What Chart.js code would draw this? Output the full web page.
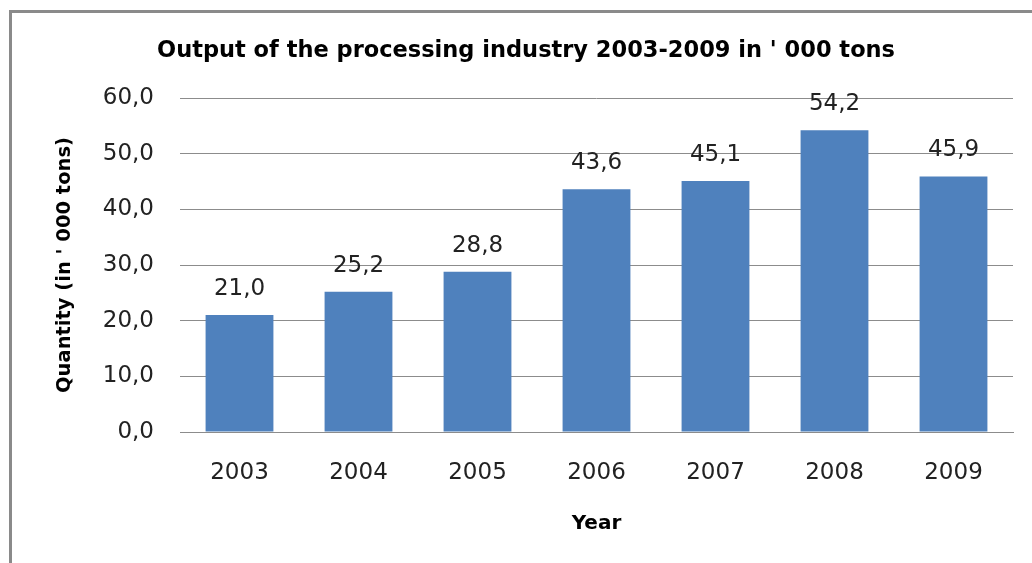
<!DOCTYPE html>
<html>
<head>
<meta charset="utf-8">
<script src="https://cdn.jsdelivr.net/npm/chart.js@4"></script>
<style>
  html, body { margin: 0; padding: 0; background: #fff; }
  #wrap { position: relative; width: 1032px; height: 563px; }
</style>
</head>
<body>
<div id="wrap"><canvas id="outputChart" width="1032" height="563"></canvas></div>
<script>
const years = ['2003', '2004', '2005', '2006', '2007', '2008', '2009'];
const output = [21.0, 25.2, 28.8, 43.6, 45.1, 54.2, 45.9];
const yTicks = [0, 10, 20, 30, 40, 50, 60];

const FONT = "'DejaVu Sans', sans-serif";
const TEXT = '#222';
const GRID = '#8c8c8c';

const fmt = v => v.toFixed(1).replace('.', ',');

// grey frame round the chart, like the spreadsheet border
const framePlugin = {
    id: 'frame',
    beforeDraw(chart) {
        const ctx = chart.ctx;
        ctx.save();
        ctx.fillStyle = '#fff';
        ctx.fillRect(0, 0, chart.width, chart.height);
        ctx.strokeStyle = '#8a8a8a';
        ctx.lineWidth = 3;
        ctx.strokeRect(10.5, 11.5, chart.width + 20, chart.height + 20);
        ctx.restore();
    }
};

// value labels above each bar
const valueLabels = {
    id: 'valueLabels',
    afterDatasetsDraw(chart) {
        const ctx = chart.ctx;
        const meta = chart.getDatasetMeta(0);
        ctx.save();
        ctx.font = '23px ' + FONT;
        ctx.fillStyle = TEXT;
        ctx.textAlign = 'center';
        ctx.textBaseline = 'middle';
        meta.data.forEach((bar, i) => {
            ctx.fillText(fmt(output[i]), bar.x, bar.y - 26);
        });
        ctx.restore();
    }
};

new Chart(document.getElementById('outputChart'), {
    type: 'bar',
    data: {
        labels: years,
        datasets: [{
            data: output,
            backgroundColor: '#4F81BD',
            borderWidth: 0,
            categoryPercentage: 1,
            barPercentage: 0.57
        }]
    },
    options: {
        responsive: false,
        animation: false,
        layout: { padding: { left: 39, right: 19, top: 0, bottom: 0 } },
        plugins: {
            legend: { display: false },
            tooltip: { enabled: false },
            title: {
                display: true,
                text: "Output of the processing industry 2003-2009 in ' 000 tons",
                color: '#000',
                font: { family: FONT, size: 22.5, weight: 'bold' },
                padding: { top: 37.5, bottom: 33.5 }
            }
        },
        scales: {
            x: {
                grid: { display: false },
                border: { display: true, color: GRID, width: 1 },
                ticks: {
                    color: TEXT,
                    font: { family: FONT, size: 23 },
                    padding: 19,
                    maxRotation: 0
                },
                title: {
                    display: true,
                    text: 'Year',
                    color: '#000',
                    font: { family: FONT, size: 20, weight: 'bold' },
                    padding: { top: 0, bottom: 27 }
                },
                afterFit(scale) { scale.height = 131; }
            },
            y: {
                min: 0,
                max: 60,
                afterBuildTicks(scale) { scale.ticks = yTicks.map(v => ({ value: v })); },
                grid: { color: GRID, lineWidth: 1, drawTicks: false },
                border: { display: false },
                ticks: {
                    color: TEXT,
                    font: { family: FONT, size: 23 },
                    padding: 26,
                    callback: v => fmt(v)
                },
                title: {
                    display: true,
                    text: "Quantity (in ' 000 tons)",
                    color: '#000',
                    font: { family: FONT, size: 19.5, weight: 'bold' },
                    padding: { top: 14, bottom: 0 }
                },
                afterFit(scale) { scale.width = 141; }
            }
        }
    },
    plugins: [framePlugin, valueLabels]
});
</script>
</body>
</html>
